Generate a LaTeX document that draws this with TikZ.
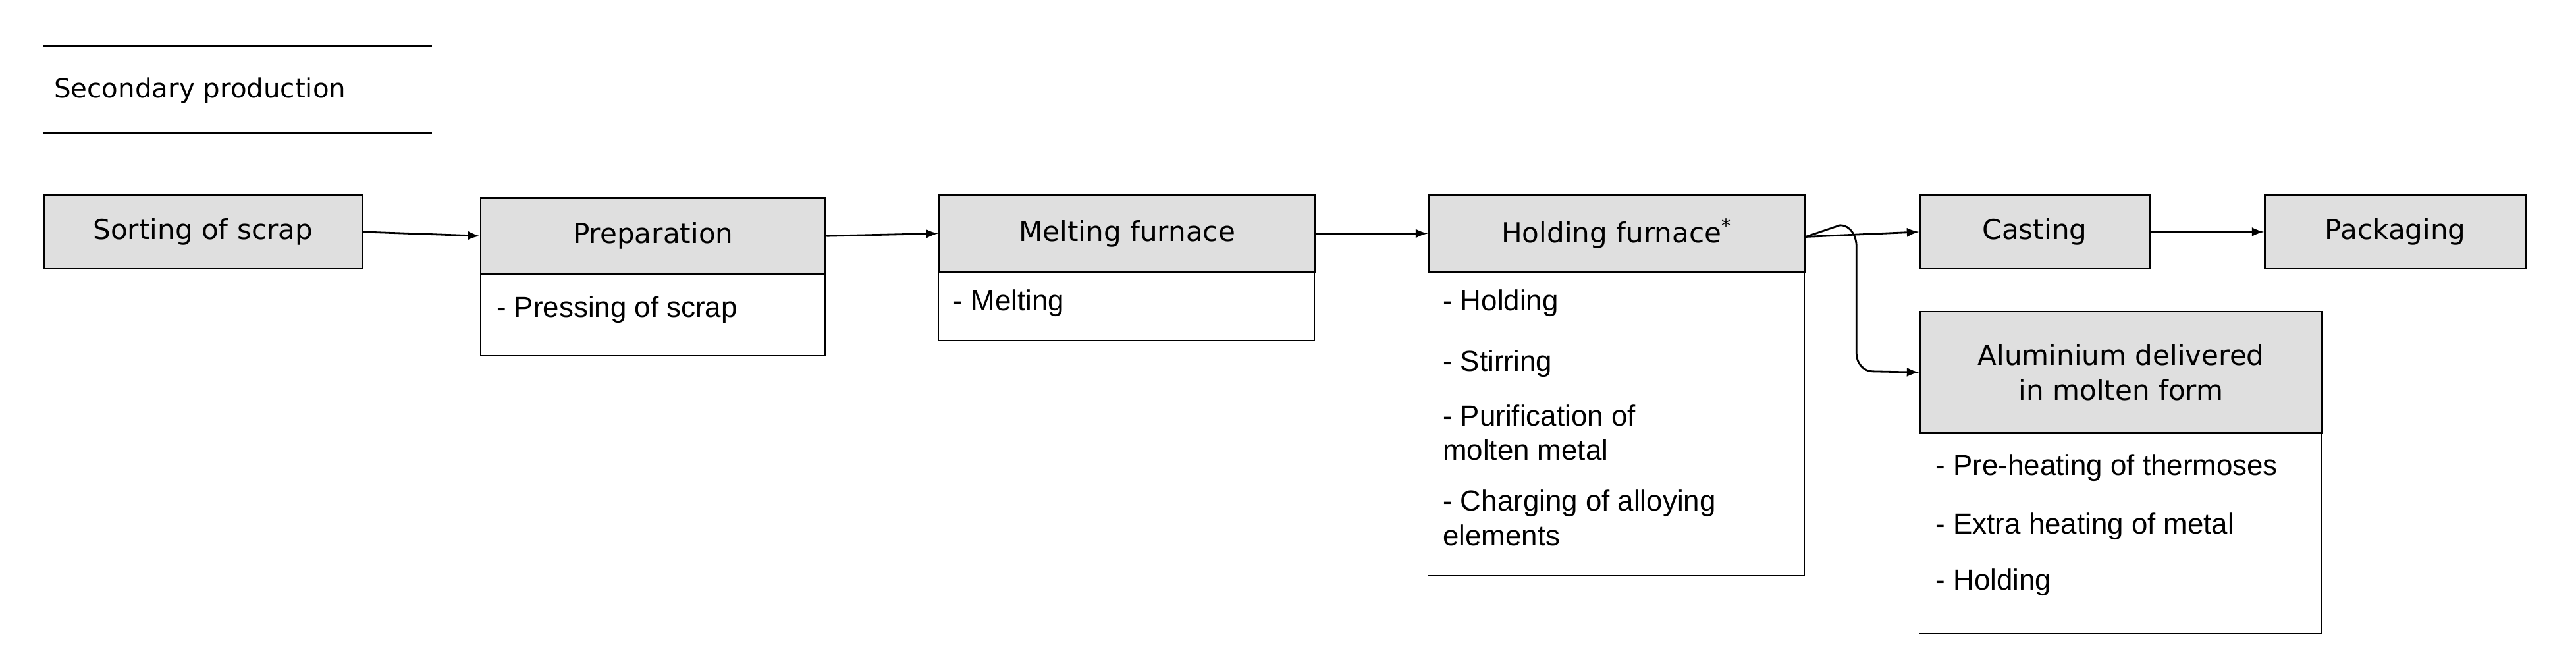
\documentclass[tikz,border=0pt]{standalone}
\usepackage{fontspec}
\setmainfont{Liberation Sans}
\newfontfamily\headfont{DejaVu Sans}
\usetikzlibrary{positioning}
\begin{document}
\begin{tikzpicture}[x=0.025cm,y=-0.025cm]

\tikzset{head/.style={draw,thick,fill=gray!25,anchor=north west,inner sep=0pt,font=\headfont\fontsize{12}{15}\selectfont,align=center}}
\tikzset{body/.style={draw,anchor=north west,inner sep=0pt}}
\tikzset{item/.style={anchor=north west,align=left,font=\fontsize{12.5}{15}\selectfont,inner sep=0pt}}
\tikzset{flow/.style={->,>=latex,thick}}

\useasboundingbox (0,0) rectangle (1568,404);

\draw[thick] (26,28) -- (263,28);
\draw[thick] (26,81) -- (263,81);
\node[anchor=west,font=\headfont\fontsize{11.5}{14}\selectfont] (title) at (28,55) {Secondary production};

\node[head,minimum width=194*0.025cm,minimum height=45*0.025cm] (sort) at (26,118) {Sorting of scrap};

\node[body,minimum width=210*0.025cm,minimum height=96*0.025cm] (prepB) at (292,120) {};
\node[head,minimum width=210*0.025cm,minimum height=46*0.025cm] (prep) at (292,120) {Preparation};
\node[item] (prepA) at (302,180) {- Pressing of scrap};

\node[body,minimum width=229*0.025cm,minimum height=89*0.025cm] (meltB) at (571,118) {};
\node[head,minimum width=229*0.025cm,minimum height=47*0.025cm] (melt) at (571,118) {Melting furnace};
\node[item] (meltA) at (580,176) {- Melting};

\node[body,minimum width=229*0.025cm,minimum height=232*0.025cm] (holdB) at (869,118) {};
\node[head,minimum width=229*0.025cm,minimum height=47*0.025cm] (hold) at (869,118) {Holding furnace\textsuperscript{*}};
\node[item] (holdA) at (878,176) {- Holding};
\node[item] (holdS) at (878,213) {- Stirring};
\node[item] (holdP) at (878,246) {- Purification of\\molten metal};
\node[item] (holdC) at (878,298) {- Charging of alloying\\elements};

\node[head,minimum width=140*0.025cm,minimum height=45*0.025cm] (cast) at (1168,118) {Casting};
\node[head,minimum width=159*0.025cm,minimum height=45*0.025cm] (pack) at (1378,118) {Packaging};

\node[body,minimum width=245*0.025cm,minimum height=196*0.025cm] (aluB) at (1168,189) {};
\node[head,minimum width=245*0.025cm,minimum height=74*0.025cm] (alu) at (1168,189) {Aluminium delivered\\in molten form};
\node[item] (aluA) at (1178,276) {- Pre-heating of thermoses};
\node[item] (aluE) at (1178,312) {- Extra heating of metal};
\node[item] (aluH) at (1178,346) {- Holding};

\draw[flow] (sort.east) -- (prep.west);
\draw[flow] (prep.east) -- (melt.west);
\draw[flow] (melt.east) -- (hold.west);
\draw[flow] ([yshift=-0.05cm]hold.east) -- (cast.west);
\draw[flow] ([yshift=-0.05cm]hold.east) -- (1120,137) to[out=0,in=90] (1130,150) -- (1130,215) to[out=-90,in=180] (1140,226) -- (alu.west);
\draw[flow] (cast.east) -- (pack.west);

\end{tikzpicture}
\end{document}
